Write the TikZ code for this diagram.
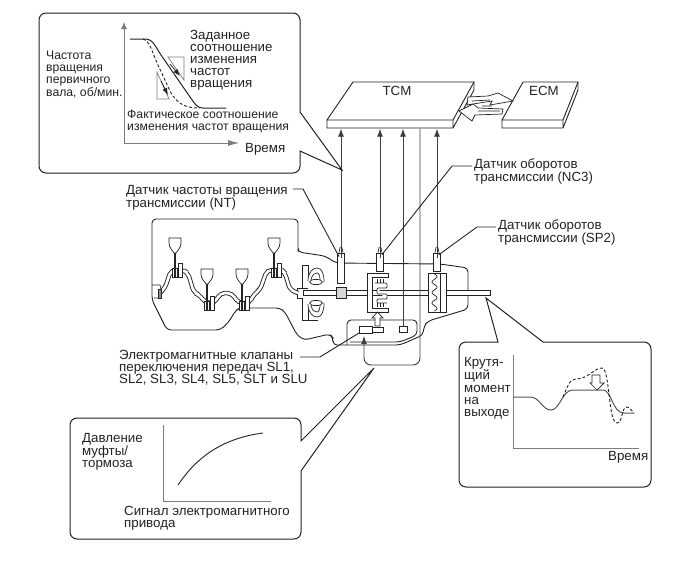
\documentclass[tikz,border=0pt]{standalone}
\usepackage{fontspec}
\setmainfont{Liberation Sans}
\usepackage{xcolor}
\usetikzlibrary{arrows.meta}
\definecolor{inkC}{RGB}{35,35,35}
\definecolor{axisC}{RGB}{125,125,125}
\definecolor{fillC}{RGB}{215,215,215}
\tikzset{
  lab/.style={anchor=west,inner sep=0pt,align=left,text=inkC,font=\fontsize{13.3}{12.1}\selectfont},
  labs/.style={lab,font=\fontsize{12.2}{12.1}\selectfont},
  callout/.style={draw=inkC,line width=1pt,fill=white},
  body/.style={draw=inkC,line width=0.9pt},
  thinl/.style={draw=inkC,line width=0.7pt},
  sig/.style={draw=axisC!50!black,line width=0.9pt},
  axis/.style={draw=axisC,line width=0.8pt},
  tip/.style={-{Latex[length=8pt,width=6pt]}},
  leader/.style={draw=inkC,line width=0.9pt},
  pipe/.style={draw=inkC,line width=0.9pt,double=white,double distance=2.6pt},
  sensor/.style={draw=inkC,line width=0.8pt,fill=white,inner sep=0pt,minimum width=6.5pt},
}
\begin{document}
\begin{tikzpicture}[x=1pt,y=-1pt]
  \useasboundingbox (0,0) rectangle (690,562);
  % --- control units -------------------------------------------------------
  \draw[body,fill=white] (353,82)--(474,82)--(453,120)--(327,120)--cycle;
  \draw[body] (327,120)--(327,128)--(453,128)--(453,120) (453,128)--(474,90)--(474,82);
  \draw[body,fill=white] (523,82)--(578,82)--(563,120)--(502,120)--cycle;
  \draw[body] (502,120)--(502,128)--(563,128)--(563,120) (563,128)--(578,90)--(578,82);
  \node[lab,anchor=center] (tcm) at (397,91){TCM};
  \node[lab,anchor=center] (ecm) at (544,91){ECM};
  % exchange arrows between the two units
  \draw[thinl,fill=white] (468,97)--(488,96)--(498,93)--(513,101)--(490,105)--(492,101)--(467,105)--cycle;
  \draw[thinl,fill=white] (459,111)--(473,104)--(478,108)--(503,109)--(502,114)--(475,115)--(472,121)--cycle;
  \draw[thinl] (472,101)--(490,100) (482,106)--(492,106) (478,111)--(500,111);
  % --- housing outline -----------------------------------------------------
  \draw[body,rounded corners=4pt] (298,248)--(298,219)--(152,219)--(152,300)--(167,330)--(220,330)
     --(228,323)--(236,310)--(240,308)--(280,308)--(285,312)--(297,335)--(304,340)--(330,334)--(333,338)--(333,345)--(400,345)
     --(423,335)--(424,326)--(428,321)--(468,309)--(468,268)--(440,264)--(336,263)--(325,256)--(298,252)--cycle;
  \draw[body,rounded corners=4pt] (347,345)--(347,320)--(417,320)--(417,335)--(400,342)--(350,342);
  % --- shaft, torque converter ---------------------------------------------
  \draw[thinl,fill=white] (303,290)--(490,290)--(490,295)--(303,295)--cycle;
  \draw[thinl] (297,288)--(302,288)--(302,265)--(308,265)--(308,278)
     (297,288)--(297,298)--(302,298)--(302,320)--(318,320) (308,320)--(308,307) (302,288)--(308,288);
  \foreach \yb/\s in {282/1, 303/-1} {
     \begin{scope}[shift={(316,\yb)},yscale=\s]
        \draw[thinl,fill=white] (-8,-1) .. controls (-8,-10) and (-3,-14) .. (1,-14) .. controls (6,-14) and (8,-8) .. (8,0);
        \draw[thinl] (-5,-2) .. controls (-4,-8) and (-1,-9) .. (1,-9) .. controls (3,-9) and (4,-6) .. (4,-2);
        \draw[thinl,fill=white] (0,0) ellipse[x radius=6.5,y radius=2.6];
     \end{scope}
  }
  \draw[thinl,fill=fillC] (336,287) rectangle (346,298);
  % --- clutch drum ---------------------------------------------------------
  \draw[thinl,fill=white] (367,273)--(388,273)--(388,277)--(372,277)--(372,308)--(388,308)--(388,312)--(367,312)--cycle;
  \draw[thinl,fill=white,rounded corners=1pt] (375,283)--(387,283)--(387,288)--(377,288)--(377,294)--(387,294)--(387,299)--(377,299)--(377,303)--(387,303);
  \foreach \cx in {377,380,383} {
     \draw[thinl] (\cx,279)--(\cx,283) (\cx,303)--(\cx,307);
  }
  % --- planetary unit ------------------------------------------------------
  \draw[thinl,fill=white] (428,273) rectangle (446,312);
  \draw[thinl] (440,273)--(440,312);
  \draw[thinl,domain=274:311,samples=60,smooth] plot ({434.5+2.5*sin(11*(\x-274)*3.1)},\x);
  % --- lower valve body ----------------------------------------------------
  \draw[thinl,fill=white] (372,327) rectangle (383,332);
  \draw[thinl,fill=white] (359,326) rectangle (372,333);
  \draw[thinl,fill=white] (399,326) rectangle (407,332);
  \draw[thinl,fill=white] (377.5,312)--(383,318)--(380,318)--(380,326)--(375,326)--(375,318)--(372,318)--cycle;
  % --- shift valves and oil passage ----------------------------------------
  \draw[pipe,rounded corners=5pt] (160,293)--(165,288)--(171,270)--(183,270)--(188,273)--(194,293)--(200,295)--(205,303)
     --(215,303)--(220,293)--(232,293)--(238,303)--(250,303)--(253,295)--(260,290)--(267,270)--(282,270)--(285,273)--(290,290)--(298,293);
  \draw[thinl] (152,285)--(160,285)--(161,289) (161,298)--(154,298);
  \draw[thinl,fill=inkC!50] (158,289) rectangle (161,298);
  \foreach \vx/\vy/\ve/\wy in {175/238/277/270, 207/269/310/303, 242/269/310/303, 274/238/277/270} {
     \draw[thinl,fill=white] (\vx-2.5,\wy-2) rectangle (\vx+2,\wy+7);
     \draw[thinl,fill=white] (\vx+3,\wy-7) rectangle (\vx+7,\wy+7);
     \begin{scope}[shift={(\vx,\vy)}]
        \draw[thinl,fill=white] (-6,0)--(6,0)--(6,5) .. controls (6,10) and (2,13) .. (1,15)
           -- (-1,15) .. controls (-2,13) and (-6,10) .. (-6,5) -- cycle;
        \draw[thinl,fill=inkC!60] (-0.8,15) rectangle (0.8,\ve-\vy);
     \end{scope}
  }
  % --- sensors and signal lines --------------------------------------------
  \node[sensor,minimum height=30pt] (ntS) at (341,268){};
  \node[sensor,minimum height=18pt] (ncS) at (380,262){};
  \node[sensor,minimum height=18pt] (spS) at (437,262){};
  \foreach \n in {ntS,ncS,spS} {
     \draw[thinl,fill=white] ([xshift=-2pt]\n.north)--++(1,-5)--++(2,0)--++(1,5);
  }
  \node[draw=none,inner sep=0pt] (tcmA) at (341,128){};
  \node[draw=none,inner sep=0pt] (tcmB) at (380,128){};
  \node[draw=none,inner sep=0pt] (tcmC) at (403,128){};
  \node[draw=none,inner sep=0pt] (tcmD) at (420,128){};
  \node[draw=none,inner sep=0pt] (tcmE) at (437,128){};
  \draw[sig,tip] ([yshift=-5pt]ntS.north) -- (tcmA);
  \draw[sig,tip] ([yshift=-5pt]ncS.north) -- (tcmB);
  \draw[sig,tip] ([yshift=-5pt]spS.north) -- (tcmE);
  \draw[sig,tip] (403,326) -- (tcmC);
  \draw[sig,rounded corners=7pt,tip] (tcmD) -- (420,365) -- (364,365) -- (364,336);
  % --- upper graph ---------------------------------------------------------
  \draw[callout,rounded corners=7pt] (39,13) -- (300,13) [sharp corners] -- (300,112) -- (342,170) -- (300,151)
     [rounded corners=7pt] -- (300,173) -- (39,173) -- cycle;
  \draw[axis,{Latex[length=7pt,width=6pt]}-{Latex[length=11pt,width=6pt]}] (124,22)--(124,143)--(239,143);
  \draw[axisC,line width=0.7pt] (168,57)--(184,57)--(184,80)--cycle;
  \draw[axisC,line width=0.7pt] (157,72)--(157,99)--(169,99)--cycle;
  \draw[inkC,line width=1pt] (130,39)--(145,39) .. controls (153,39) and (155,46) .. (161,55)
     -- (190,97) .. controls (195,104) and (197,108) .. (203,108) -- (226,108);
  \draw[inkC,line width=0.9pt,dashed,dash pattern=on 3pt off 2pt] (143,39) .. controls (150,41) and (152,52) .. (158,65)
     -- (170,91) .. controls (178,106) and (188,108) .. (200,108);
  \draw[inkC,line width=0.8pt,-{Latex[length=7pt,width=5pt]}] (170,64)--(180,76);
  \draw[inkC,line width=0.8pt,-{Latex[length=7pt,width=5pt]}] (161,81)--(168,95);
  \node[labs] (rpmL) at (46,74.5){Частота\\вращения\\первичного\\вала, об/мин.};
  \node[lab] (setL) at (190,60.5){Заданное\\соотношение\\изменения\\частот\\вращения};
  \node[labs] (actL) at (127,121.5){Фактическое соотношение\\изменения частот вращения};
  \node[lab] (timeA) at (245,149){Время};
  % --- clutch pressure graph -----------------------------------------------
  \draw[callout,rounded corners=7pt] (70,418) -- (301,418) [sharp corners] -- (301,441) -- (374,368) -- (301,471)
     [rounded corners=7pt] -- (301,539) -- (70,539) -- cycle;
  \draw[axis] (163,425)--(163,501)--(271,501);
  \draw[inkC,line width=0.9pt] (178,485) .. controls (198,455) and (225,438) .. (263,433);
  \node[lab] (presL) at (82,452){Давление\\муфты/\\тормоза};
  \node[lab] (sigL) at (124,518){Сигнал электромагнитного\\привода};
  % --- output torque graph -------------------------------------------------
  \draw[callout,rounded corners=7pt] (459,342) [sharp corners] -- (498,342) -- (486,298) -- (543,342)
     [rounded corners=7pt] -- (651,342) -- (651,487) -- (459,487) -- cycle;
  \draw[axis] (513,355)--(513,448)--(639,448);
  \draw[axisC!70!black,line width=1pt] (513,397)--(530,397) .. controls (540,397) and (542,410) .. (551,410)
     .. controls (560,410) and (562,390) .. (573,390) -- (603,390) .. controls (612,390) and (612,413) .. (624,413) -- (634,413);
  \draw[inkC,line width=0.9pt,dashed,dash pattern=on 3pt off 2pt] (563,397) .. controls (568,385) and (570,379) .. (576,379)
     .. controls (588,379) and (594,368) .. (602,368) .. controls (610,368) and (608,423) .. (617,423)
     .. controls (623,423) and (621,407) .. (627,407) .. controls (630,407) and (631,411) .. (634,413);
  \draw[thinl,fill=white] (592,375)--(600,375)--(600,383)--(604,383)--(597,390)--(590,383)--(592,383)--cycle;
  \node[lab] (trqL) at (464,388){Крутя-\\щий\\момент\\на\\выходе};
  \node[lab] (timeB) at (608,457){Время};
  % --- labels with leaders -------------------------------------------------
  \node[lab] (ntL) at (126,197.5){Датчик частоты вращения\\трансмиссии (NT)};
  \node[lab] (ncL) at (474,171.5){Датчик оборотов\\трансмиссии (NC3)};
  \node[lab] (spL) at (498,232.5){Датчик оборотов\\трансмиссии (SP2)};
  \node[lab] (slL) at (119,368){Электромагнитные клапаны\\переключения передач SL1,\\SL2, SL3, SL4, SL5, SLT и SLU};
  \draw[leader] (293,189)--(303,189)--([xshift=-2pt,yshift=-4pt]ntS.north);
  \draw[leader] (472,166)--(452,166)--([xshift=2pt,yshift=-2pt]ncS.north);
  \draw[leader] (496,227)--(477,227)--([xshift=2pt,yshift=-2pt]spS.north);
  \draw[leader] (300,357)--(320,357)--(359,333);
\end{tikzpicture}
\end{document}
